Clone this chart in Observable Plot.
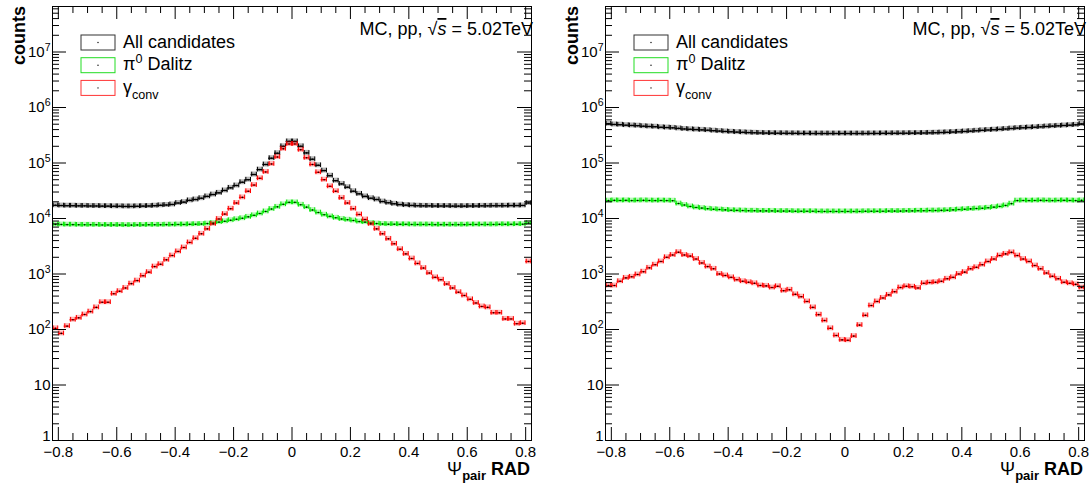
<!DOCTYPE html>
<html><head><meta charset="utf-8">
<script src="https://cdn.jsdelivr.net/npm/d3@7"></script>
<script src="https://cdn.jsdelivr.net/npm/@observablehq/plot@0.6"></script>
<style>
body{margin:0;background:#fff;}
#wrap{position:relative;width:1089px;height:491px;overflow:hidden;background:#fff;font-family:"Liberation Sans",Arial,sans-serif;}
.panel{position:absolute;top:0;}
</style></head><body><div id="wrap"></div>
<script>
// ---- bins (centers), width 0.02 ----
const binCenters = [-0.81,-0.79,-0.77,-0.75,-0.73,-0.71,-0.69,-0.67,-0.65,-0.63,-0.61,-0.59,-0.57,-0.55,-0.53,-0.51,-0.49,-0.47,-0.45,-0.43,-0.41,-0.39,-0.37,-0.35,-0.33,-0.31,-0.29,-0.27,-0.25,-0.23,-0.21,-0.19,-0.17,-0.15,-0.13,-0.11,-0.09,-0.07,-0.05,-0.03,-0.01,0.01,0.03,0.05,0.07,0.09,0.11,0.13,0.15,0.17,0.19,0.21,0.23,0.25,0.27,0.29,0.31,0.33,0.35,0.37,0.39,0.41,0.43,0.45,0.47,0.49,0.51,0.53,0.55,0.57,0.59,0.61,0.63,0.65,0.67,0.69,0.71,0.73,0.75,0.77,0.79,0.81];
const BIN_W = 0.02;

// ---- left panel ----
const leftAll = [17300,17100,17000,17000,16900,16900,16800,16800,16700,16700,16600,16600,16500,16500,16600,16700,16800,17000,17300,17500,
  17900,19000,19700,21200,22000,23200,25000,27000,29000,32000,35700,39300,45000,50000,62000,76000,94000,122000,150000,200000,245000,245000,
  200000,152000,117000,91000,73000,59000,48000,42000,36600,31000,27800,25000,23200,22000,20200,19200,18400,17800,17400,17200,17000,
  16900,16900,16800,16800,16800,16700,16700,16700,16800,16800,16900,16900,17000,17000,17000,17100,17100,17200,19000];
const leftDalitz = [7800,7800,7750,7750,7700,7700,7700,7700,7650,7650,7650,7650,7600,7600,7650,7650,7700,7700,7700,7750,7750,7800,7800,7850,7900,
  7950,8100,8300,8600,8900,9300,9700,10100,10700,11400,12300,13400,14800,16200,18000,19500,19500,17700,16000,14200,12800,11700,10900,10300,9800,9500,9200,8800,8600,8300,8100,
  7950,7900,7900,7850,7850,7800,7800,7800,7800,7750,7750,7750,7750,7750,7750,7800,7800,7800,7800,7800,7850,7850,7850,7900,7900,
  8300];
const leftConv = [105,85,115,150,162,186,210,250,310,310,440,490,560,670,760,930,1080,1360,1500,1800,2150,2550,3000,3700,4400,5300,6500,8000,9800,12000,15000,19000,24000,31000,40000,53000,69000,96000,128000,180000,220000,
  220000,173000,124000,94000,68000,50000,38000,31000,23500,19000,15000,11800,9600,8000,6500,5300,4300,3500,2800,2300,1900,1550,1280,1040,870,790,660,560,470,410,350,300,260,250,200,200,155,155,127,130,1680];

// ---- right panel ----
const rightAll = [510000,495000,490000,480000,475000,470000,460000,455000,450000,440000,435000,430000,420000,410000,405000,400000,395000,390000,382000,376000,370000,365000,360000,357000,353000,350000,348000,346000,345000,344000,
  343000,342000,342000,341000,341000,340000,340000,340000,340000,340000,340000,340000,340000,340000,340000,341000,341000,342000,342000,343000,343000,344000,
  345000,346000,347000,349000,351000,354000,357000,361000,365000,370000,375000,381000,388000,393000,398000,404000,410000,418000,425000,431000,436000,441000,448000,455000,461000,467000,474000,480000,487000,505000];
const rightDalitz = [21000,21200,21100,21200,21000,21100,21200,21100,21000,21100,21000,20900,
  18600,17500,16500,15800,15400,15000,14700,14500,14300,14100,14000,13900,
  13800,13800,13700,13700,13700,13600,13600,13600,13500,13500,13500,13500,13400,13400,13400,13400,13400,13400,13400,13400,13500,13500,13500,13500,13600,13600,13600,13700,13700,13800,13800,13900,13900,14000,
  14100,14300,14500,14700,14900,15100,15300,15600,16000,16500,17200,18500,
  21000,21100,21000,21100,21200,21100,21000,21100,21200,21100,21000,21200];
const rightConv = [620,620,740,850,890,980,1100,1290,1470,1680,2000,2200,2470,2200,2100,1860,1580,1360,1240,1000,940,870,790,740,710,680,620,610,570,600,500,520,430,390,320,250,185,145,105,78,65,
  64,76,120,180,270,320,370,420,480,570,600,590,560,680,700,710,740,820,870,1000,1080,1240,1320,1470,1680,1860,2150,2300,2450,2150,1860,1680,1420,1240,1040,910,820,710,680,650,570];

// ---- labels / ticks ----
const seriesNames = ["All candidates", "π^{0} Dalitz", "γ_{conv}"];
const seriesColors = ["#000000", "#00e600", "#ff0000"];
const boxColors = ["#333333", "#22dd22", "#ff3333"];
const xMajorTicks = [-0.8,-0.6,-0.4,-0.2,0,0.2,0.4,0.6,0.8];
const xMinorTicks = d3.range(-16, 17).filter(i => i % 4 !== 0).map(i => i * 0.05);
const yMajorTicks = [1,10,100,1e3,1e4,1e5,1e6,1e7];
const Y_MAX = Math.pow(10, 434/55.5);
const yMinorTicks = [];
for (let k = 0; k < 8; k++) for (let m = 2; m <= 9; m++) { const v = m * Math.pow(10, k); if (v < Y_MAX) yMinorTicks.push(v); }
const yTitle = "counts";
const energyLabel = "MC, pp, ";
const ns = "http://www.w3.org/2000/svg";

function fmtX(d){ if (Math.abs(d) < 1e-9) return "0"; return (d < 0 ? "\u2212" : "") + Math.abs(d).toFixed(1); }
function fmtY(d){ if (d === 1) return "1"; if (d === 10) return "10"; return "10^{" + Math.round(Math.log10(d)) + "}"; }

function richify(el, fs){
  const s = el.textContent;
  if (!/[\^_]\{/.test(s)) return;
  el.textContent = "";
  const re = /([\^_])\{([^}]*)\}/g;
  let last = 0, m, cur = 0;
  const add = (t, off, small) => {
    const ts = document.createElementNS(ns, "tspan");
    ts.textContent = t;
    if (off !== cur) ts.setAttribute("dy", (off - cur).toFixed(2));
    cur = off;
    if (small) ts.setAttribute("font-size", (fs * 0.7).toFixed(1));
    el.appendChild(ts);
  };
  while ((m = re.exec(s))) {
    if (m.index > last) add(s.slice(last, m.index), 0, false);
    add(m[2], m[1] === "^" ? -0.42 * fs : 0.32 * fs, true);
    last = re.lastIndex;
  }
  if (last < s.length) add(s.slice(last), 0, false);
}

function makePanel(all, dalitz, conv, width){
  const H = 491, mL = 52, mT = 6, mB = 51, PW = 479, PH = 434;
  const mR = width - mL - PW;
  const series = [all, dalitz, conv];
  const marks = [];
  series.forEach((vals, si) => {
    const col = seriesColors[si];
    const rows = binCenters.map((c, i) => ({c, v: vals[i]}));
    marks.push(Plot.rect(rows, {x1: d => d.c - BIN_W/2, x2: d => d.c + BIN_W/2, y1: d => d.v / 1.11, y2: d => d.v * 1.11, fill: col, fillOpacity: 0.28}));
    marks.push(Plot.ruleY(rows, {y: "v", x1: d => d.c - BIN_W/2, x2: d => d.c + BIN_W/2, stroke: col, strokeWidth: 1.3}));
    marks.push(Plot.ruleX(rows, {x: d => d.c - BIN_W/2, dx: 0.6, y1: d => d.v / 1.1, y2: d => d.v * 1.1, stroke: col, strokeWidth: 1}));
    marks.push(Plot.ruleX(rows, {x: d => d.c + BIN_W/2, dx: -0.6, y1: d => d.v / 1.1, y2: d => d.v * 1.1, stroke: col, strokeWidth: 1}));
    marks.push(Plot.dot(rows, {x: "c", y: "v", r: 0.8, fill: "#000", stroke: "none"}));
  });
  marks.push(
    Plot.tickX(xMajorTicks, {x: d => d, insetTop: PH - 13, stroke: "#000"}),
    Plot.tickX(xMajorTicks, {x: d => d, insetBottom: PH - 13, stroke: "#000"}),
    Plot.tickX(xMinorTicks, {x: d => d, insetTop: PH - 7, stroke: "#000"}),
    Plot.tickX(xMinorTicks, {x: d => d, insetBottom: PH - 7, stroke: "#000"}),
    Plot.tickY(yMajorTicks, {y: d => d, insetRight: PW - 14, stroke: "#000"}),
    Plot.tickY(yMajorTicks, {y: d => d, insetLeft: PW - 14, stroke: "#000"}),
    Plot.tickY(yMinorTicks, {y: d => d, insetRight: PW - 7, stroke: "#000"}),
    Plot.tickY(yMinorTicks, {y: d => d, insetLeft: PW - 7, stroke: "#000"}),
    Plot.frame({stroke: "#000", strokeWidth: 1}),
    Plot.text(xMajorTicks, {x: d => d, text: fmtX, frameAnchor: "bottom", lineAnchor: "top", dy: 6, fontSize: 15, fill: "#000"}),
    Plot.text(yMajorTicks.slice(1), {y: d => d, text: fmtY, frameAnchor: "left", textAnchor: "end", dx: -2, fontSize: 15, fill: "#000"}),
    Plot.text(yMajorTicks.slice(0, 1), {y: d => d, text: fmtY, frameAnchor: "left", textAnchor: "end", dx: -2, dy: -4, fontSize: 15, fill: "#000"})
  );
  const svg = Plot.plot({
    width, height: H, marginLeft: mL, marginRight: mR, marginTop: mT, marginBottom: mB,
    x: {type: "linear", domain: [-0.82, 0.82], axis: null},
    y: {type: "log", domain: [1, Y_MAX], axis: null},
    style: {fontFamily: "'Liberation Sans', Arial, sans-serif", background: "#fff", overflow: "visible", color: "#000"},
    marks
  });
  svg.querySelectorAll("text").forEach(t => richify(t, 15));
  const g = d3.select(svg);
  // y title
  g.append("text").attr("transform", "translate(25,6) rotate(-90)").attr("text-anchor", "end")
    .attr("font-size", 18).attr("font-weight", "bold").attr("fill", "#000").text(yTitle);
  // x title
  const xt = g.append("text").attr("x", 530).attr("y", 475).attr("text-anchor", "end").attr("fill", "#000");
  xt.append("tspan").attr("font-size", 18).text("Ψ");
  xt.append("tspan").attr("font-size", 13).attr("font-weight", "bold").attr("dy", 5).text("pair");
  xt.append("tspan").attr("font-size", 18).attr("font-weight", "bold").attr("dy", -5).text(" RAD");
  // energy label
  const et = g.append("text").attr("x", 533).attr("y", 35).attr("text-anchor", "end").attr("font-size", 18).attr("fill", "#000");
  et.append("tspan").text(energyLabel + "√");
  et.append("tspan").attr("font-style", "italic").style("text-decoration", "overline").text("s");
  et.append("tspan").text(" = 5.02TeV");
  // legend
  seriesNames.forEach((name, i) => {
    const y0 = 35 + 22.7 * i;
    g.append("rect").attr("x", 81).attr("y", y0).attr("width", 34).attr("height", 15)
      .attr("fill", "#fff").attr("stroke", boxColors[i]).attr("stroke-width", 1);
    g.append("circle").attr("cx", 98).attr("cy", y0 + 7.5).attr("r", 0.7).attr("fill", "#000");
    const t = g.append("text").attr("x", 123).attr("y", y0 + 12.5).attr("text-anchor", "start")
      .attr("font-size", 18).attr("fill", "#000").text(name);
    richify(t.node(), 18);
  });
  return svg;
}

const wrap = document.getElementById("wrap");
const d1 = document.createElement("div"); d1.className = "panel"; d1.style.left = "0px";
const d2 = document.createElement("div"); d2.className = "panel"; d2.style.left = "553px";
d1.appendChild(makePanel(leftAll, leftDalitz, leftConv, 544));
d2.appendChild(makePanel(rightAll, rightDalitz, rightConv, 536));
wrap.appendChild(d1); wrap.appendChild(d2);
</script>
</body></html>
